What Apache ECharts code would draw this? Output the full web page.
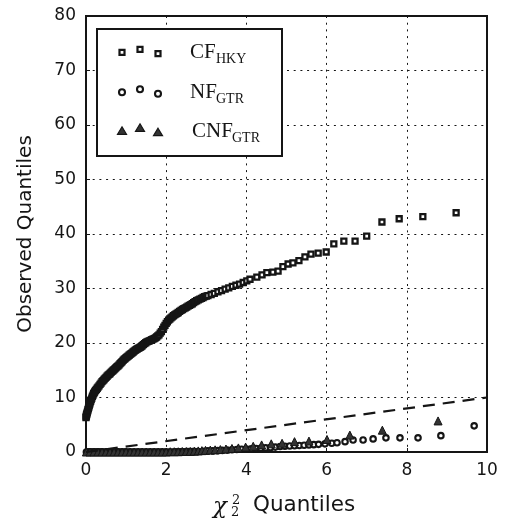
<!DOCTYPE html>
<html><head><meta charset="utf-8">
<script src="https://cdn.jsdelivr.net/npm/echarts@6/dist/echarts.min.js"></script>
<style>html,body{margin:0;padding:0;background:#fff;}#c{width:506px;height:519px;}</style>
</head><body><div id="c"></div>
<script>
// ---- data ----
const xTicks = [0, 2, 4, 6, 8, 10];
const yTicks = [0, 10, 20, 30, 40, 50, 60, 70, 80];
const seriesNames = ['CF', 'NF', 'CNF'];
const seriesSubs = ['HKY', 'GTR', 'GTR'];

const cfX = [0.00,0.005,0.01,0.015,0.02,0.03,0.04,0.05,0.06,0.07,0.08,0.09,0.10,0.115,0.13,0.145,0.16,0.175,0.19,0.205,0.22,0.24,0.26,0.28,0.30,0.325,0.35,0.375,0.40,0.425,0.45,0.475,
  0.500,0.525,0.550,0.575,0.600,0.625,0.650,0.675,0.700,0.725,0.750,0.775,0.800,0.825,0.850,0.875,0.900,0.925,0.950,0.975,
  1.000,1.025,1.050,1.075,1.100,1.125,1.150,1.175,1.200,1.225,1.250,1.275,1.300,1.325,1.350,1.375,1.400,1.430,1.460,1.490,
  1.520,1.550,1.580,1.610,1.640,1.670,1.700,1.730,1.760,1.790,1.820,1.850,1.880,1.910,1.940,1.970,
  2.000,2.030,2.060,2.090,2.120,2.150,2.180,2.210,2.240,2.270,2.300,2.335,2.370,2.405,2.440,2.475,2.510,2.545,2.580,2.615,2.650,2.685,2.720,2.760,2.800,2.840,2.880,2.920,2.960,
  3.000,3.040,3.12,3.20,3.29,3.38,3.47,3.56,3.65,3.74,3.83,3.92,4.01,4.09,4.26,4.39,4.51,4.66,4.79,4.91,5.04,5.16,5.31,5.46,5.61,5.79,5.99,6.18,6.43,6.71,7.00,7.38,7.81,8.40,9.23];
const cfY = [6.3,6.5,6.7,6.85,7.0,7.25,7.5,7.75,8.0,8.25,8.5,8.75,9.0,9.3,9.6,9.9,10.2,10.45,10.7,10.9,11.1,11.3,11.5,11.7,11.9,12.15,12.4,12.65,12.9,13.1,13.3,13.5,
  13.7,13.9,14.1,14.25,14.4,14.6,14.8,14.95,15.1,15.3,15.5,15.65,15.8,16.0,16.2,16.4,16.6,16.8,17.0,17.15,
  17.3,17.45,17.6,17.75,17.9,18.05,18.2,18.35,18.5,18.65,18.8,18.9,19.0,19.1,19.2,19.35,19.5,19.7,19.9,20.05,
  20.2,20.3,20.4,20.5,20.6,20.7,20.8,20.95,21.1,21.3,21.5,21.8,22.1,22.5,22.9,23.25,
  23.6,23.9,24.2,24.4,24.6,24.8,25.0,25.15,25.3,25.45,25.6,25.8,26.0,26.15,26.3,26.45,26.6,26.75,26.9,27.05,27.2,27.4,27.6,27.75,27.9,28.05,28.2,28.35,28.5,
  28.6,28.7,28.9,29.1,29.4,29.6,29.9,30.1,30.4,30.6,30.8,31.1,31.4,31.7,32.1,32.5,32.9,33.0,33.2,34.0,34.5,34.7,35.1,35.8,36.3,36.5,36.7,38.2,38.7,38.7,39.6,42.2,42.8,43.2,43.9];

const nfX = [0.01,0.04,0.07,0.10,0.13,0.16,0.19,0.22,0.25,0.28,0.31,0.34,0.37,0.40,0.44,0.48,0.52,0.56,0.60,0.64,0.68,0.72,0.76,0.80,0.84,0.88,0.92,0.96,
  1.00,1.05,1.10,1.15,1.20,1.25,1.30,1.35,1.40,1.45,1.50,1.55,1.60,1.65,1.70,1.75,1.80,1.85,1.90,1.95,
  2.00,2.06,2.12,2.18,2.24,2.30,2.36,2.42,2.48,2.54,2.60,2.66,2.72,
  2.80,2.92,3.04,3.16,3.28,3.40,3.52,3.64,3.76,3.88,4.00,4.12,4.24,4.36,4.48,4.60,4.72,4.84,4.96,5.08,5.20,5.32,5.44,5.56,5.68,5.80,5.96,6.13,6.26,6.46,6.66,6.91,7.16,7.48,7.83,8.28,8.85,9.68];
const nfY = [0,0,0,0,0,0,0,0,0,0,0,0,0,0,0,0,0,0,0,0,0,0,0,0,0,0,0,0,
  0,0,0,0,0,0,0,0,0,0,0,0,0,0,0,0,0,0,0,0,
  0,0,0,0,0.05,0.05,0.05,0.05,0.05,0.1,0.1,0.1,0.1,
  0.1,0.15,0.2,0.2,0.25,0.3,0.35,0.4,0.45,0.5,0.55,0.6,0.65,0.7,0.75,0.8,0.9,1.0,1.05,1.1,1.15,1.2,1.25,1.3,1.35,1.4,1.5,1.6,1.7,1.9,2.2,2.2,2.4,2.6,2.6,2.6,3.0,4.8];

const cnfX = [0.01,0.1,0.2,0.3,0.4,0.5,0.6,0.7,0.8,0.9,1.0,1.1,1.2,1.3,1.4,1.5,1.6,1.7,1.8,1.9,2.0,2.1,2.2,2.3,2.4,2.5,2.6,2.7,2.8,2.89,2.98,3.10,3.22,3.35,3.49,3.64,3.80,3.98,4.17,4.38,4.62,4.89,5.20,5.56,6.01,6.58,7.39,8.78];
const cnfY = [0.0,0.0,0.0,0.0,0.0,0.0,0.0,0.0,0.0,0.0,0.0,0.0,0.0,0.0,0.0,0.0,0.0,0.0,0.0,0.0,0.0,0.05,0.05,0.05,0.1,0.1,0.1,0.15,0.2,0.25,0.3,0.35,0.4,0.45,0.55,0.65,0.75,0.9,1.05,1.3,1.5,1.6,1.9,2.0,2.3,3.1,4.0,5.7];

const refX = [0, 10];
const refY = [0, 10];

// ---- chart ----
const zip = (a, b) => a.map((v, i) => [v, b[i]]);
const ink = '#151515';
const chart = echarts.init(document.getElementById('c'), null, { renderer: 'canvas' });

const legendRows = [
  { y: 52, sym: 'rect' },
  { y: 92, sym: 'circle' },
  { y: 131, sym: 'tri' }
];
const legendDx = [122, 140, 158];
const legendDy = [0.3, -2.7, 1.7];
const legendGraphics = [{
  type: 'rect', z: 100,
  shape: { x: 97, y: 29, width: 185, height: 127 },
  style: { fill: '#fff', stroke: ink, lineWidth: 2 }
}];
legendRows.forEach((r, i) => {
  legendDx.forEach((lx, j) => {
    const cy = r.y + legendDy[j];
    if (r.sym === 'rect') {
      legendGraphics.push({ type: 'rect', z: 101, shape: { x: lx - 2.5, y: cy - 2.5, width: 5, height: 5 }, style: { fill: '#fff', stroke: ink, lineWidth: 2.2 } });
    } else if (r.sym === 'circle') {
      legendGraphics.push({ type: 'circle', z: 101, shape: { cx: lx, cy: cy, r: 3 }, style: { fill: '#fff', stroke: ink, lineWidth: 2.1 } });
    } else {
      legendGraphics.push({ type: 'polygon', z: 101, shape: { points: [[lx, cy - 4.5], [lx + 4.5, cy + 3], [lx - 4.5, cy + 3]] }, style: { fill: '#333', stroke: ink, lineWidth: 1.2 } });
    }
  });
  const tx = i === 2 ? 192 : 190;
  legendGraphics.push({ type: 'text', z: 101, x: tx, y: r.y, style: { text: seriesNames[i], font: '21px "Liberation Serif"', fill: ink, verticalAlign: 'middle', align: 'left' } });
  const mainW = i === 0 ? 26 : (i === 1 ? 26 : 40);
  legendGraphics.push({ type: 'text', z: 101, x: tx + mainW, y: r.y + 7, style: { text: seriesSubs[i], font: '14px "Liberation Serif"', fill: ink, verticalAlign: 'middle', align: 'left' } });
});

const titleGraphics = [
  { type: 'text', x: 213, y: 507, style: { text: 'χ', font: 'italic 23px "DejaVu Serif"', fill: ink, verticalAlign: 'middle' } },
  { type: 'text', x: 232, y: 501, style: { text: '2', font: '13px "DejaVu Serif"', fill: ink, verticalAlign: 'middle' } },
  { type: 'text', x: 231, y: 513, style: { text: '2', font: '13px "DejaVu Serif"', fill: ink, verticalAlign: 'middle' } },
  { type: 'text', x: 253, y: 505, style: { text: 'Quantiles', font: '21.5px "DejaVu Sans"', fill: ink, verticalAlign: 'middle' } }
];

const axisFont = { fontFamily: 'DejaVu Sans', fontSize: 17, color: ink };
const gridDash = { color: ink, width: 1, type: [2, 4.7] };

chart.setOption({
  animation: false,
  backgroundColor: '#fff',
  grid: { left: 86, right: 19, top: 16, bottom: 67, show: true, borderColor: ink, borderWidth: 2, backgroundColor: 'transparent' },
  xAxis: {
    type: 'value', min: xTicks[0], max: xTicks[xTicks.length - 1], interval: 2,
    axisLine: { show: false },
    axisTick: { inside: true, length: 4, lineStyle: { color: ink } },
    axisLabel: Object.assign({ margin: 10 }, axisFont),
    splitLine: { show: true, lineStyle: gridDash }
  },
  yAxis: {
    type: 'value', min: yTicks[0], max: yTicks[yTicks.length - 1], interval: 10,
    name: 'Observed Quantiles', nameLocation: 'middle', nameGap: 50,
    nameTextStyle: { fontFamily: 'DejaVu Sans', fontSize: 20, color: ink },
    axisLine: { show: false },
    axisTick: { inside: true, length: 4, lineStyle: { color: ink } },
    axisLabel: Object.assign({ margin: 10 }, axisFont),
    splitLine: { show: true, lineStyle: gridDash }
  },
  graphic: legendGraphics.concat(titleGraphics),
  series: [
    { type: 'scatter', name: 'CF', clip: true, data: zip(cfX, cfY), symbol: 'rect', symbolSize: 5,
      itemStyle: { color: '#fff', borderColor: ink, borderWidth: 2.3, opacity: 1 } },
    { type: 'scatter', name: 'NF', clip: true, data: zip(nfX, nfY), symbol: 'circle', symbolSize: 5.5,
      itemStyle: { color: '#fff', borderColor: ink, borderWidth: 2.1, opacity: 1 } },
    { type: 'scatter', name: 'CNF', clip: true, data: zip(cnfX, cnfY), symbol: 'triangle', symbolSize: 8,
      itemStyle: { color: '#333', borderColor: ink, borderWidth: 1, opacity: 1 } },
    { type: 'line', name: 'ref', data: zip(refX, refY), symbol: 'none', clip: true,
      lineStyle: { color: ink, width: 2.2, type: [12, 8] } }
  ]
});
</script>
</body></html>
